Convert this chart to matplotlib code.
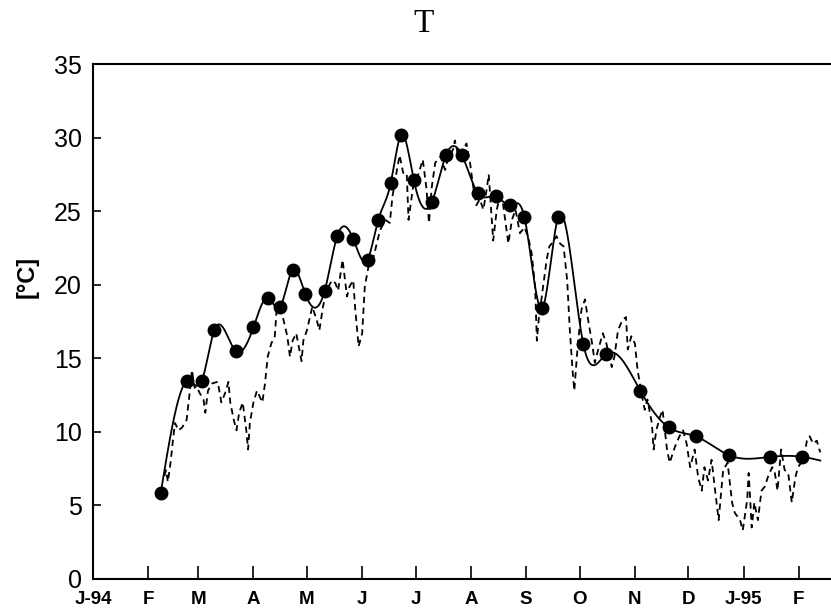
import numpy as np
import matplotlib
matplotlib.use('Agg')
import matplotlib.pyplot as plt

# days since 1 Jan 1994
month_days = [0, 31, 59, 90, 120, 151, 181, 212, 243, 273, 304, 334, 365, 396]
month_labels = ['J-94', 'F', 'M', 'A', 'M', 'J', 'J', 'A', 'S', 'O', 'N', 'D', 'J-95', 'F']

# sampled values (filled circles)
sample_day = [38, 53, 61, 68, 80, 90, 98, 105, 112, 119, 130, 137, 146, 154, 160,
              167, 173, 180, 190, 198, 207, 216, 226, 234, 242, 252, 261, 275,
              288, 307, 323, 338, 357, 380, 398]
sample_temp = [5.85, 13.46, 13.46, 16.9, 15.5, 17.1, 19.1, 18.5, 21.0, 19.4, 19.6,
               23.3, 23.1, 21.7, 24.4, 26.9, 30.2, 27.1, 25.6, 28.8, 28.8, 26.2,
               26.0, 25.4, 24.6, 18.4, 24.6, 16.0, 15.3, 12.8, 10.3, 9.7, 8.4,
               8.3, 8.3]
curve_end = (408, 8.05)

# daily record (dashed)
daily_day = [40, 41, 42, 43.5, 45, 46, 48, 50, 52.5, 54, 55.5, 57, 58, 60, 62, 63,
             64.5, 67, 70, 72, 74, 76, 77, 79, 80.5, 82, 84, 86, 87, 88, 90, 92,
             95, 96.5, 98, 100, 102, 103, 104, 106.5, 109, 110.5, 112, 114, 117,
             118, 120, 123, 125.5, 127, 129, 131, 134, 136, 137.5, 140, 142.5,
             144, 146, 147, 149, 151, 152.5, 154.5, 157, 161, 164, 166.5, 168,
             170.5, 172, 174, 176, 177, 179.5, 182, 185, 187, 188.5, 190, 192,
             195, 197.5, 199, 202, 203, 205, 207, 209.5, 211.5, 213, 215, 217,
             219, 221, 222, 224.5, 226.5, 229, 231, 233, 235, 237, 239.5, 242,
             244, 246, 248, 249, 250, 252.5, 254.5, 256, 258, 260, 262, 264, 266,
             267.5, 269, 270, 272, 274, 276, 277.5, 280, 281.5, 283, 286, 288,
             291, 292.5, 294.5, 297, 299, 300, 302, 304, 305.5, 308, 309.5, 311,
             313.5, 314.5, 316, 318, 319.5, 322, 323.5, 326.5, 329, 331, 333,
             335, 337.5, 339.5, 341.5, 343, 345, 347, 349, 351, 352, 353.5, 356,
             358.5, 360, 363, 364.5, 367, 367.8, 368.5, 369.5, 371, 373, 375,
             377, 378.5, 381, 382.5, 384, 386, 388, 390, 392, 394, 395.5, 398.5,
             400.5, 402, 404, 406, 408]
daily_temp = [7.0, 7.4, 6.6, 7.9, 9.6, 10.6, 10.1, 10.3, 10.8, 12.4, 14.2, 13.0,
              13.1, 12.6, 12.2, 11.3, 12.8, 13.3, 13.4, 12.0, 12.6, 13.4, 12.0,
              10.8, 10.1, 11.3, 12.0, 10.1, 8.8, 10.6, 12.0, 12.8, 12.0, 13.3,
              15.1, 16.0, 16.5, 18.3, 18.5, 17.8, 16.5, 15.1, 16.2, 16.7, 14.8,
              16.2, 16.9, 18.5, 17.6, 16.9, 18.5, 19.6, 20.3, 20.1, 19.6, 21.7,
              19.2, 19.9, 20.3, 18.5, 15.8, 16.7, 19.9, 21.2, 21.7, 23.7, 24.4,
              24.2, 26.0, 27.8, 28.8, 27.6, 27.6, 24.4, 26.6, 27.3, 28.5, 26.6,
              24.2, 26.6, 28.3, 28.7, 27.8, 28.5, 29.2, 29.8, 28.7, 29.0, 29.6,
              28.3, 26.9, 25.4, 25.8, 25.1, 26.6, 27.5, 23.0, 25.1, 26.4, 24.6,
              22.8, 24.4, 25.1, 23.5, 23.9, 23.3, 22.2, 19.9, 16.2, 17.6, 19.9,
              21.7, 22.6, 22.9, 23.3, 22.8, 22.6, 20.3, 16.9, 14.2, 12.8, 16.0,
              18.3, 19.0, 17.8, 16.0, 14.7, 15.4, 16.7, 16.0, 14.4, 15.1, 16.9,
              17.6, 17.8, 15.6, 16.5, 16.0, 14.2, 12.4, 11.5, 12.2, 10.6, 8.8,
              10.1, 11.0, 11.5, 8.8, 7.9, 9.0, 9.7, 10.1, 9.2, 7.6, 8.8, 6.9, 6.0,
              7.6, 6.7, 8.1, 6.0, 4.0, 5.4, 7.4, 7.9, 5.2, 4.5, 4.0, 3.3, 5.4,
              7.2, 5.8, 3.5, 5.2, 4.0, 6.0, 6.3, 6.9, 7.6, 7.2, 6.0, 8.8, 7.4,
              7.2, 5.2, 6.9, 7.6, 8.1, 9.4, 9.7, 9.2, 9.4, 8.6]


def natural_spline(x, y, xs):
    # plain natural cubic spline through the knots
    x = np.asarray(x, float)
    y = np.asarray(y, float)
    n = len(x)
    h = np.diff(x)
    A = np.zeros((n, n))
    b = np.zeros(n)
    A[0, 0] = A[-1, -1] = 1
    for i in range(1, n - 1):
        A[i, i - 1] = h[i - 1]
        A[i, i] = 2 * (h[i - 1] + h[i])
        A[i, i + 1] = h[i]
        b[i] = 3 * ((y[i + 1] - y[i]) / h[i] - (y[i] - y[i - 1]) / h[i - 1])
    c = np.linalg.solve(A, b)
    k = np.clip(np.searchsorted(x, xs) - 1, 0, n - 2)
    dx = xs - x[k]
    bb = (y[k + 1] - y[k]) / h[k] - h[k] * (2 * c[k] + c[k + 1]) / 3
    d = (c[k + 1] - c[k]) / (3 * h[k])
    return y[k] + bb * dx + c[k] * dx ** 2 + d * dx ** 3


knot_x = sample_day + [curve_end[0]]
knot_y = sample_temp + [curve_end[1]]
xs = np.linspace(knot_x[0], knot_x[-1], 1500)
ys = natural_spline(knot_x, knot_y, xs)

fig = plt.figure(figsize=(8.31, 6.16), dpi=100)
ax = fig.add_axes([0.1119, 0.0601, 0.8881, 0.836])

ax.plot(daily_day, daily_temp, color='black', lw=1.3, ls=(0, (3.5, 2.5)))
ax.plot(xs, ys, color='black', lw=1.3)
ax.plot(sample_day, sample_temp, 'o', color='black', ms=9)

ax.set_xlim(0, 414)
ax.set_ylim(0, 35)
ax.set_yticks(range(0, 36, 5))
ax.set_xticks(month_days)
ax.set_xticklabels(month_labels, fontweight='bold', fontsize=13.5,
                   family='Liberation Sans')
for lab in ax.get_yticklabels():
    lab.set_family('Liberation Sans')
    lab.set_fontsize(18)

ax.tick_params(axis='x', direction='in', length=9.5, width=1.2, pad=9)
ax.tick_params(axis='y', direction='in', length=6, width=1.2, pad=8)
ax.spines['right'].set_visible(False)
for s in ['left', 'top', 'bottom']:
    ax.spines[s].set_linewidth(1.5)

fig.text(0.51, 0.962, 'T', family='Liberation Serif', fontsize=24,
         ha='center', va='center')
fig.text(0.033, 0.55, '[°C]', family='Liberation Sans', fontweight='bold',
         fontsize=17, rotation=90, ha='center', va='center')

fig.savefig('out.png', dpi=100)
